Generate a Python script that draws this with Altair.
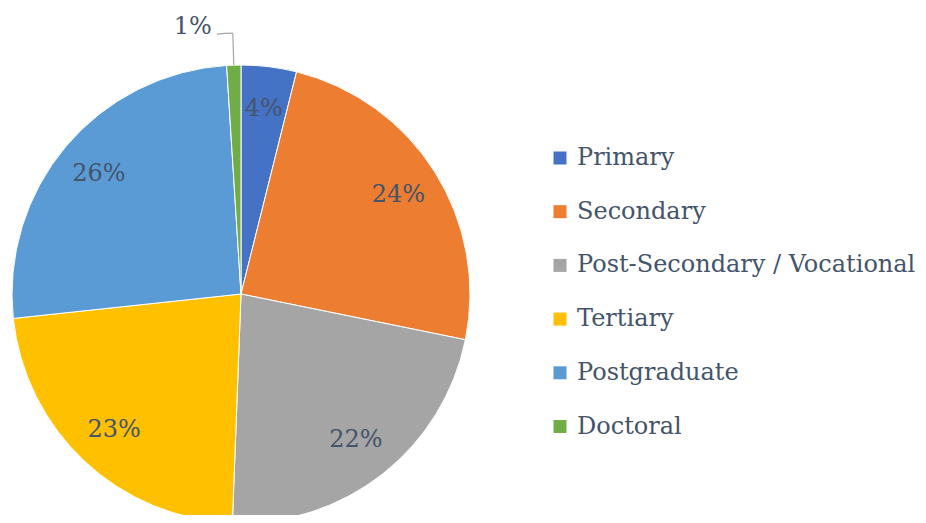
import altair as alt
import pandas as pd

categories = ["Primary", "Secondary", "Post-Secondary / Vocational",
              "Tertiary", "Postgraduate", "Doctoral"]
shares = [3.9, 24.3, 22.4, 22.7, 25.7, 1.0]
colors = ["#4472C4", "#ED7D31", "#A5A5A5", "#FFC000", "#5B9BD5", "#70AD47"]

df = pd.DataFrame({"level": categories, "share": shares,
                   "order": list(range(len(categories)))})
total = float(sum(shares))

CX, CY, R = 233, 286, 229
FONT = "DejaVu Serif"
TXT = "#44546A"

theta_scale = alt.Scale(domain=[0, total])
color = alt.Color(
    "level:N",
    scale=alt.Scale(domain=categories, range=colors),
    sort=categories,
    legend=alt.Legend(
        title=None, orient="none", legendX=540, legendY=138,
        symbolType="square", symbolSize=169, symbolStrokeWidth=0,
        labelFont=FONT, labelFontSize=24, labelColor=TXT,
        labelOffset=5, rowPadding=29.7, padding=0, labelLimit=400,
    ),
)

base = alt.Chart(df)

pie = base.mark_arc(radius=R, stroke="white", strokeWidth=1).encode(
    theta=alt.Theta("share:Q", stack=True, scale=theta_scale),
    order=alt.Order("order:Q"),
    color=color,
    x=alt.value(CX), y=alt.value(CY),
)

stacked = base.transform_window(
    cum="sum(share)", sort=[alt.SortField("order")]
).transform_calculate(
    mid=alt.datum.cum - alt.datum.share / 2,
    end=alt.datum.cum - alt.datum.share / 2 - 0.97,
    pct=alt.datum.share / 100,
)

labels = stacked.transform_filter(alt.datum.level != "Doctoral").mark_text(
    radius=186, font=FONT, fontSize=24, color=TXT,
    align="center", baseline="middle",
).encode(
    theta=alt.Theta("mid:Q", scale=theta_scale, stack=None),
    text=alt.Text("pct:Q", format=".0%"),
    x=alt.value(CX), y=alt.value(CY),
)

lead = stacked.transform_filter(alt.datum.level == "Doctoral")

lead_radial = lead.mark_arc(fill=None, fillOpacity=0, stroke="#A6A6A6",
                            strokeWidth=1.2).encode(
    theta=alt.Theta("mid:Q", scale=theta_scale, stack=None),
    theta2="mid:Q",
    radius=alt.value(R), radius2=alt.value(261),
    x=alt.value(CX), y=alt.value(CY),
)

lead_tang = lead.mark_arc(fill=None, fillOpacity=0, stroke="#A6A6A6",
                          strokeWidth=1.2).encode(
    theta=alt.Theta("end:Q", scale=theta_scale, stack=None),
    theta2="mid:Q",
    radius=alt.value(261), radius2=alt.value(261),
    x=alt.value(CX), y=alt.value(CY),
)

lead_label = lead.mark_text(
    radius=261, font=FONT, fontSize=24, color=TXT,
    align="right", baseline="middle", dx=-5, dy=-7,
).encode(
    theta=alt.Theta("end:Q", scale=theta_scale, stack=None),
    text=alt.Text("pct:Q", format=".0%"),
    x=alt.value(CX), y=alt.value(CY),
)

chart = alt.layer(pie, labels, lead_radial, lead_tang, lead_label).properties(
    width=910, height=507, padding=0,
    autosize=alt.AutoSizeParams(type="none"),
).configure_view(stroke=None)

chart.save("out.html", embed_options={"renderer": "svg", "actions": False})
